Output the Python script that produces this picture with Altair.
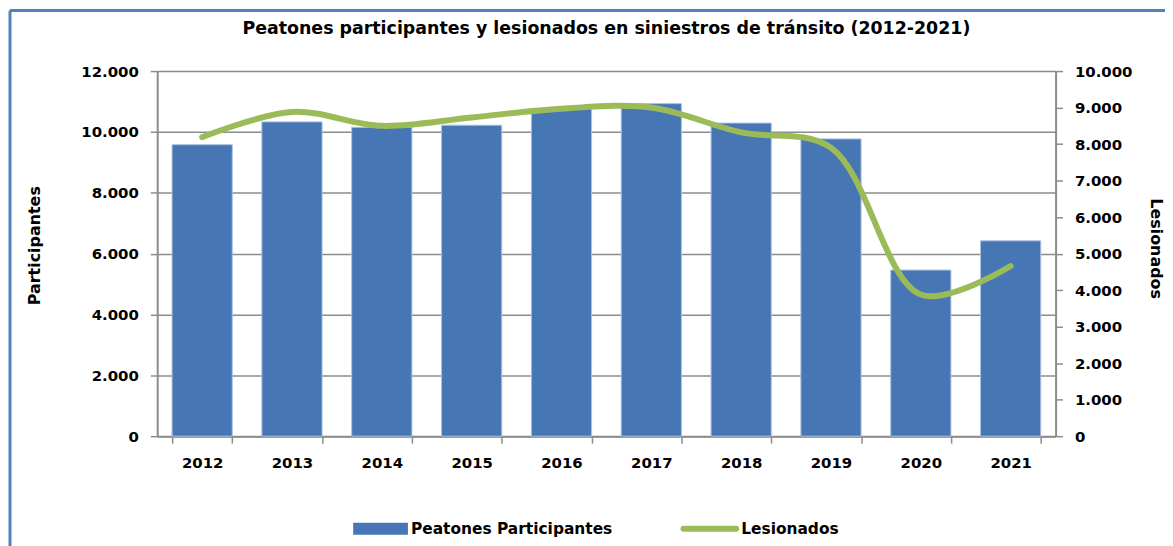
import altair as alt
import pandas as pd

years = ["2012", "2013", "2014", "2015", "2016", "2017", "2018", "2019", "2020", "2021"]
participantes = [9580, 10330, 10150, 10220, 10760, 10930, 10290, 9770, 5460, 6420]
lesionados = [8190, 8880, 8500, 8730, 8970, 9000, 8320, 7900, 3880, 4660]

left_ticks = [0, 2000, 4000, 6000, 8000, 10000, 12000]
right_ticks = [0, 1000, 2000, 3000, 4000, 5000, 6000, 7000, 8000, 9000, 10000]

FONT = "DejaVu Sans"
BLUE = "#4677B4"
GREEN = "#9BBB59"
GRAY = "#8c8c8c"
W, H = 903, 367
FS = 15

df = pd.DataFrame({"year": years, "participantes": participantes, "lesionados": lesionados})
base = alt.Chart(df)

dot_fmt = "replace(format(datum.value, ','), ',', '.')"

x_enc = alt.X("year:N", title=None,
              scale=alt.Scale(paddingInner=0.33, paddingOuter=0.165),
              axis=alt.Axis(labelAngle=0, tickBand="extent", domainColor=GRAY, tickColor=GRAY,
                            domainWidth=2, tickWidth=1.5, tickSize=7, labelPadding=12,
                            labelFont=FONT, labelFontSize=FS, labelFontWeight="bold",
                            labelColor="#000"))

bars = base.mark_bar(color=BLUE, stroke="#a9bfdf", strokeWidth=1).encode(
    x=x_enc,
    y=alt.Y("participantes:Q", title="Participantes",
            scale=alt.Scale(domain=[0, 12000], nice=False),
            axis=alt.Axis(values=left_ticks, labelExpr=dot_fmt, grid=True, gridColor=GRAY,
                          gridWidth=1.5, domainColor=GRAY, domainWidth=2, tickColor=GRAY,
                          tickWidth=1.5, tickSize=7, labelPadding=12,
                          labelFont=FONT, labelFontSize=FS, labelFontWeight="bold", labelColor="#000",
                          titleFont=FONT, titleFontSize=16, titleFontWeight="bold", titleColor="#000",
                          titlePadding=38, titleY=175)),
)

line = base.mark_line(color=GREEN, strokeWidth=6, interpolate="catmull-rom", strokeCap="round").encode(
    x=alt.X("year:N"),
    y=alt.Y("lesionados:Q", title="Lesionados",
            scale=alt.Scale(domain=[0, 10000], nice=False),
            axis=alt.Axis(orient="right", values=right_ticks, labelExpr=dot_fmt, grid=False,
                          domainColor=GRAY, domainWidth=2, tickColor=GRAY, tickWidth=1.5, tickSize=7,
                          labelPadding=12, labelFont=FONT, labelFontSize=FS, labelFontWeight="bold",
                          labelColor="#000", titleFont=FONT, titleFontSize=16, titleFontWeight="bold",
                          titleColor="#000", titlePadding=16, titleY=178)),
)

one = alt.Data(values=[{}])

border_top = alt.Chart(one).mark_rule(color="#4F81BD", strokeWidth=3).encode(
    x=alt.value(-148), x2=alt.value(1100), y=alt.value(-61))
border_left = alt.Chart(one).mark_rule(color="#4F81BD", strokeWidth=3).encode(
    x=alt.value(-148), y=alt.value(-61), y2=alt.value(700))

leg_rect = alt.Chart(one).mark_rect(color=BLUE).encode(
    x=alt.value(197), x2=alt.value(252), y=alt.value(454), y2=alt.value(466))
leg_text1 = alt.Chart(one).mark_text(align="left", baseline="middle", font=FONT, fontSize=15.5,
                                      fontWeight="bold", color="#000").encode(
    x=alt.value(255), y=alt.value(460), text=alt.value("Peatones Participantes"))
leg_line = alt.Chart(one).mark_rule(color=GREEN, strokeWidth=6, strokeCap="round").encode(
    x=alt.value(529), x2=alt.value(582), y=alt.value(460))
leg_text2 = alt.Chart(one).mark_text(align="left", baseline="middle", font=FONT, fontSize=15.5,
                                      fontWeight="bold", color="#000").encode(
    x=alt.value(587), y=alt.value(460), text=alt.value("Lesionados"))

chart = alt.layer(bars, line, border_top, border_left, leg_rect, leg_text1, leg_line, leg_text2).resolve_scale(
    y="independent"
).properties(
    width=W, height=H,
    title=alt.TitleParams("Peatones participantes y lesionados en siniestros de tránsito (2012-2021)",
                          font=FONT, fontSize=17.5, fontWeight="bold", color="#000", anchor="middle",
                          frame="group", offset=0, dy=29),
    autosize=alt.AutoSizeParams(type="none"),
    padding={"left": 150, "top": 62, "right": 110, "bottom": 110},
).configure_view(stroke=None)

chart.save("out.html", embed_options={"renderer": "svg", "actions": False})
